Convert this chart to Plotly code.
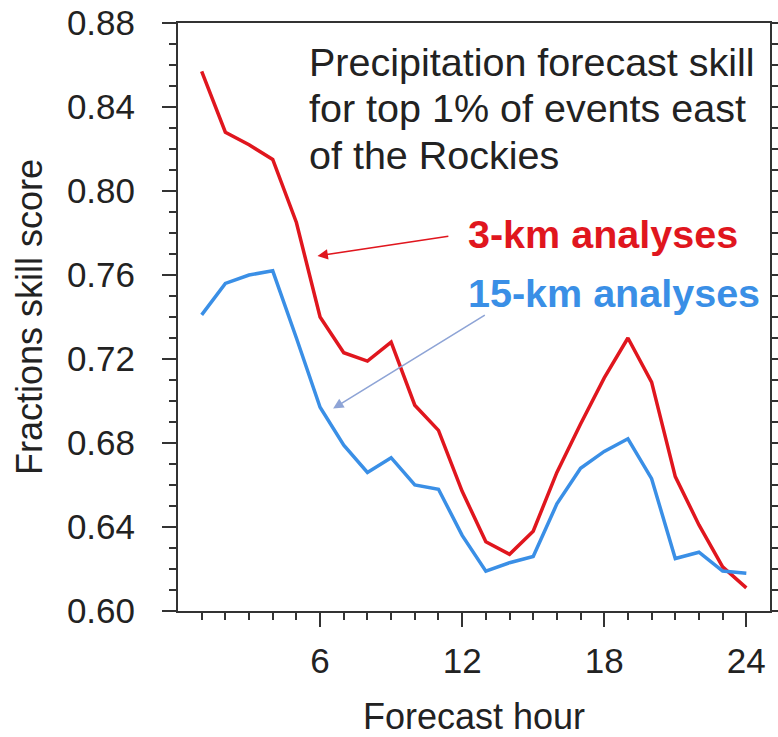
import plotly.graph_objects as go

hours = list(range(1, 25))
fss_3km = [0.857, 0.828, 0.822, 0.815, 0.785, 0.740, 0.723, 0.719, 0.728, 0.698,
           0.686, 0.657, 0.633, 0.627, 0.638, 0.666, 0.689, 0.711, 0.730, 0.709,
           0.664, 0.641, 0.621, 0.611]
fss_15km = [0.741, 0.756, 0.760, 0.762, 0.730, 0.697, 0.679, 0.666, 0.673, 0.660,
            0.658, 0.636, 0.619, 0.623, 0.626, 0.651, 0.668, 0.676, 0.682, 0.663,
            0.625, 0.628, 0.619, 0.618]
x_ticks = [6, 12, 18, 24]
y_ticks = [0.60, 0.64, 0.68, 0.72, 0.76, 0.80, 0.84, 0.88]

RED = "#e0161e"
BLUE = "#3a8fe6"
ARROW_BLUE = "#8ea4d6"
FONT = "Liberation Sans, Arial, Helvetica, sans-serif"

fig = go.Figure()
fig.add_trace(go.Scatter(x=hours, y=fss_3km, mode="lines",
                         line=dict(color=RED, width=3.5), name="3-km analyses"))
fig.add_trace(go.Scatter(x=hours, y=fss_15km, mode="lines",
                         line=dict(color=BLUE, width=3.5), name="15-km analyses"))

title_lines = ["Precipitation forecast skill",
               "for top 1% of events east",
               "of the Rockies"]
title_y = [0.8615, 0.8393, 0.8170]
for t, yy in zip(title_lines, title_y):
    fig.add_annotation(x=5.45, y=yy, xref="x", yref="y", text=t, showarrow=False,
                       xanchor="left", yanchor="middle",
                       font=dict(family=FONT, size=39.5, color="#222222"))

fig.add_annotation(x=12.17, y=0.7796, xref="x", yref="y", text="<b>3-km analyses</b>",
                   showarrow=False, xanchor="left", yanchor="middle",
                   font=dict(family=FONT, size=39.5, color=RED))
fig.add_annotation(x=12.17, y=0.7514, xref="x", yref="y", text="<b>15-km analyses</b>",
                   showarrow=False, xanchor="left", yanchor="middle",
                   font=dict(family=FONT, size=39.5, color=BLUE))

# arrows
fig.add_annotation(x=5.89, y=0.7691, ax=11.48, ay=0.7786, xref="x", yref="y",
                   axref="x", ayref="y", text="", showarrow=True,
                   arrowhead=2, arrowsize=1.3, arrowwidth=1.6, arrowcolor=RED)
fig.add_annotation(x=6.55, y=0.6964, ax=13.02, ay=0.7413, xref="x", yref="y",
                   axref="x", ayref="y", text="", showarrow=True,
                   arrowhead=2, arrowsize=1.3, arrowwidth=1.6, arrowcolor=ARROW_BLUE)

axis_common = dict(showline=True, linecolor="#333333", linewidth=2,
                   showgrid=False, zeroline=False, ticks="outside",
                   tickcolor="#333333", tickwidth=2, ticklen=14, automargin=False,
                   ticklabeloverflow="allow",
                   tickfont=dict(family=FONT, size=35, color="#222222"))

fig.update_xaxes(**axis_common, range=[0, 25], tickmode="array", tickvals=x_ticks,
                 ticktext=[str(v) for v in x_ticks], mirror=True,
                 minor=dict(tickvals=list(range(1, 25)), ticks="outside", ticklen=7,
                            tickwidth=1.5, tickcolor="#333333"),
                 title=dict(text="Forecast hour",
                            font=dict(family=FONT, size=36, color="#222222"),
                            standoff=30),
                 ticklabelstandoff=4)
fig.update_yaxes(**axis_common, range=[0.60, 0.88], tickmode="array", tickvals=y_ticks,
                 ticktext=[f"{v:.2f}" for v in y_ticks], mirror="allticks",
                 minor=dict(dtick=0.01, ticks="outside", ticklen=7, tickwidth=1.5,
                            tickcolor="#333333"),
                 title=dict(text="Fractions skill score",
                            font=dict(family=FONT, size=36, color="#222222"),
                            standoff=13),
                 ticklabelstandoff=20)

fig.update_layout(width=778, height=737, showlegend=False,
                  paper_bgcolor="white", plot_bgcolor="white",
                  margin=dict(l=178, r=8, t=23, b=126))

fig.write_html("out.html", config={"displayModeBar": False},
               post_script="document.body.style.margin='0';")
